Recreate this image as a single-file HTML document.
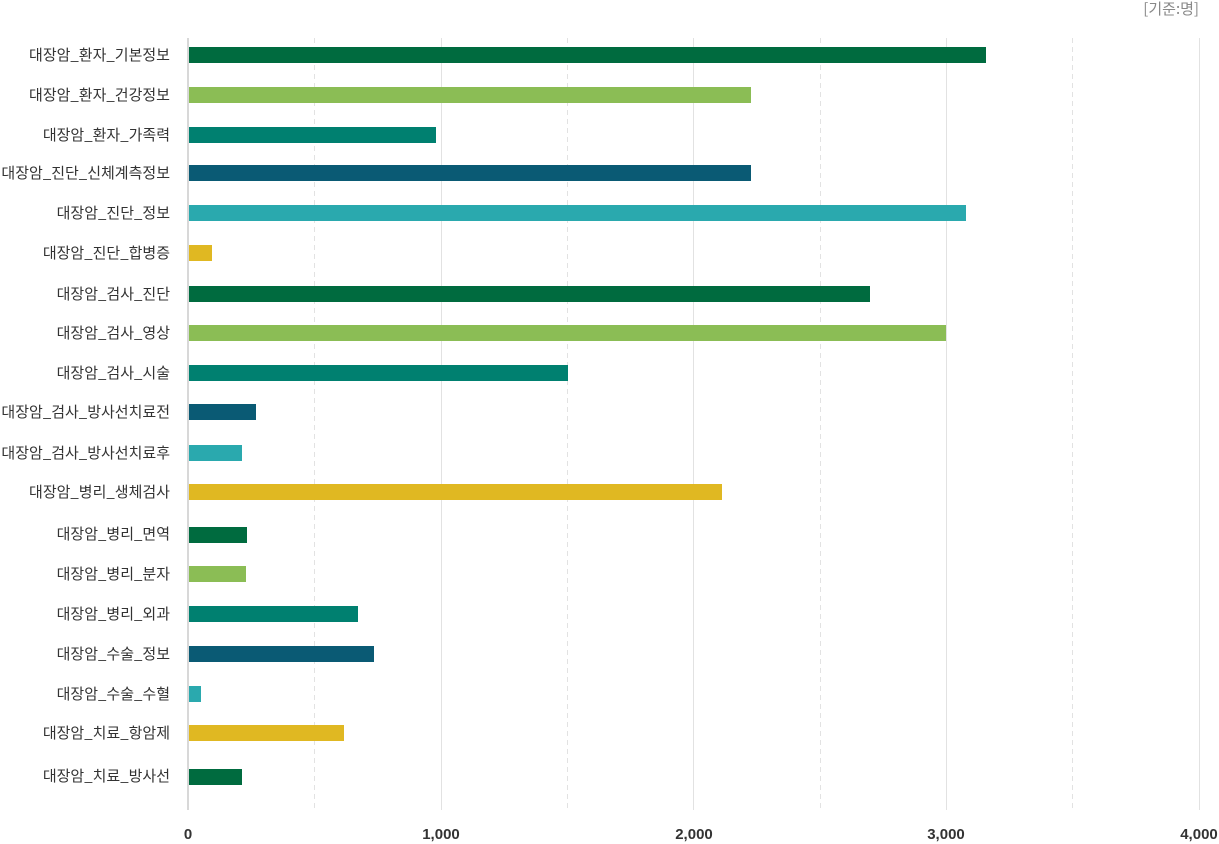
<!DOCTYPE html>
<html><head><meta charset="utf-8"><style>
html,body{margin:0;padding:0;background:#fff;}
svg{display:block;}
text{font-family:"Noto Sans CJK KR","Liberation Sans",sans-serif;}
.num{font-family:"Liberation Sans","Noto Sans CJK KR",sans-serif;}
</style></head><body>
<svg width="1219" height="844" xmlns="http://www.w3.org/2000/svg">
<text x="1199" y="14" font-size="15" fill="#888" text-anchor="end">[기준:명]</text>
<g stroke="#e2e2e2" stroke-width="1">
<line x1="314.5" y1="38" x2="314.5" y2="810" stroke-dasharray="5,4"/>
<line x1="441.5" y1="38" x2="441.5" y2="810"/>
<line x1="567.5" y1="38" x2="567.5" y2="810" stroke-dasharray="5,4"/>
<line x1="693.5" y1="38" x2="693.5" y2="810"/>
<line x1="820.5" y1="38" x2="820.5" y2="810" stroke-dasharray="5,4"/>
<line x1="946.5" y1="38" x2="946.5" y2="810"/>
<line x1="1072.5" y1="38" x2="1072.5" y2="810" stroke-dasharray="5,4"/>
<line x1="1199.5" y1="38" x2="1199.5" y2="810"/>
</g>
<rect x="187" y="38" width="2" height="772" fill="#d8d8d8"/>
<g>
<rect x="189" y="47" width="797" height="16" fill="#006b3f"/>
<rect x="189" y="87" width="562" height="16" fill="#8bbd55"/>
<rect x="189" y="127" width="247" height="16" fill="#008070"/>
<rect x="189" y="165" width="562" height="16" fill="#0a5a74"/>
<rect x="189" y="205" width="777" height="16" fill="#2aa9ae"/>
<rect x="189" y="245" width="23" height="16" fill="#e0b822"/>
<rect x="189" y="286" width="681" height="16" fill="#006b3f"/>
<rect x="189" y="325" width="757" height="16" fill="#8bbd55"/>
<rect x="189" y="365" width="379" height="16" fill="#008070"/>
<rect x="189" y="404" width="67" height="16" fill="#0a5a74"/>
<rect x="189" y="445" width="53" height="16" fill="#2aa9ae"/>
<rect x="189" y="484" width="533" height="16" fill="#e0b822"/>
<rect x="189" y="527" width="58" height="16" fill="#006b3f"/>
<rect x="189" y="566" width="57" height="16" fill="#8bbd55"/>
<rect x="189" y="606" width="169" height="16" fill="#008070"/>
<rect x="189" y="646" width="185" height="16" fill="#0a5a74"/>
<rect x="189" y="686" width="12" height="16" fill="#2aa9ae"/>
<rect x="189" y="725" width="155" height="16" fill="#e0b822"/>
<rect x="189" y="769" width="53" height="16" fill="#006b3f"/>
</g>
<g font-size="15" fill="#333" text-anchor="end">
<text x="170" y="60">대장암_환자_기본정보</text>
<text x="170" y="100">대장암_환자_건강정보</text>
<text x="170" y="140">대장암_환자_가족력</text>
<text x="170" y="178">대장암_진단_신체계측정보</text>
<text x="170" y="218">대장암_진단_정보</text>
<text x="170" y="258">대장암_진단_합병증</text>
<text x="170" y="299">대장암_검사_진단</text>
<text x="170" y="338">대장암_검사_영상</text>
<text x="170" y="378">대장암_검사_시술</text>
<text x="170" y="417">대장암_검사_방사선치료전</text>
<text x="170" y="458">대장암_검사_방사선치료후</text>
<text x="170" y="497">대장암_병리_생체검사</text>
<text x="170" y="539">대장암_병리_면역</text>
<text x="170" y="579">대장암_병리_분자</text>
<text x="170" y="619">대장암_병리_외과</text>
<text x="170" y="659">대장암_수술_정보</text>
<text x="170" y="699">대장암_수술_수혈</text>
<text x="170" y="738">대장암_치료_항암제</text>
<text x="170" y="781">대장암_치료_방사선</text>
</g>
<g font-size="15" font-weight="bold" fill="#333" text-anchor="middle">
<text class="num" x="188" y="839">0</text>
<text class="num" x="441" y="839">1,000</text>
<text class="num" x="694" y="839">2,000</text>
<text class="num" x="946" y="839">3,000</text>
<text class="num" x="1199" y="839">4,000</text>
</g>
</svg>
</body></html>
